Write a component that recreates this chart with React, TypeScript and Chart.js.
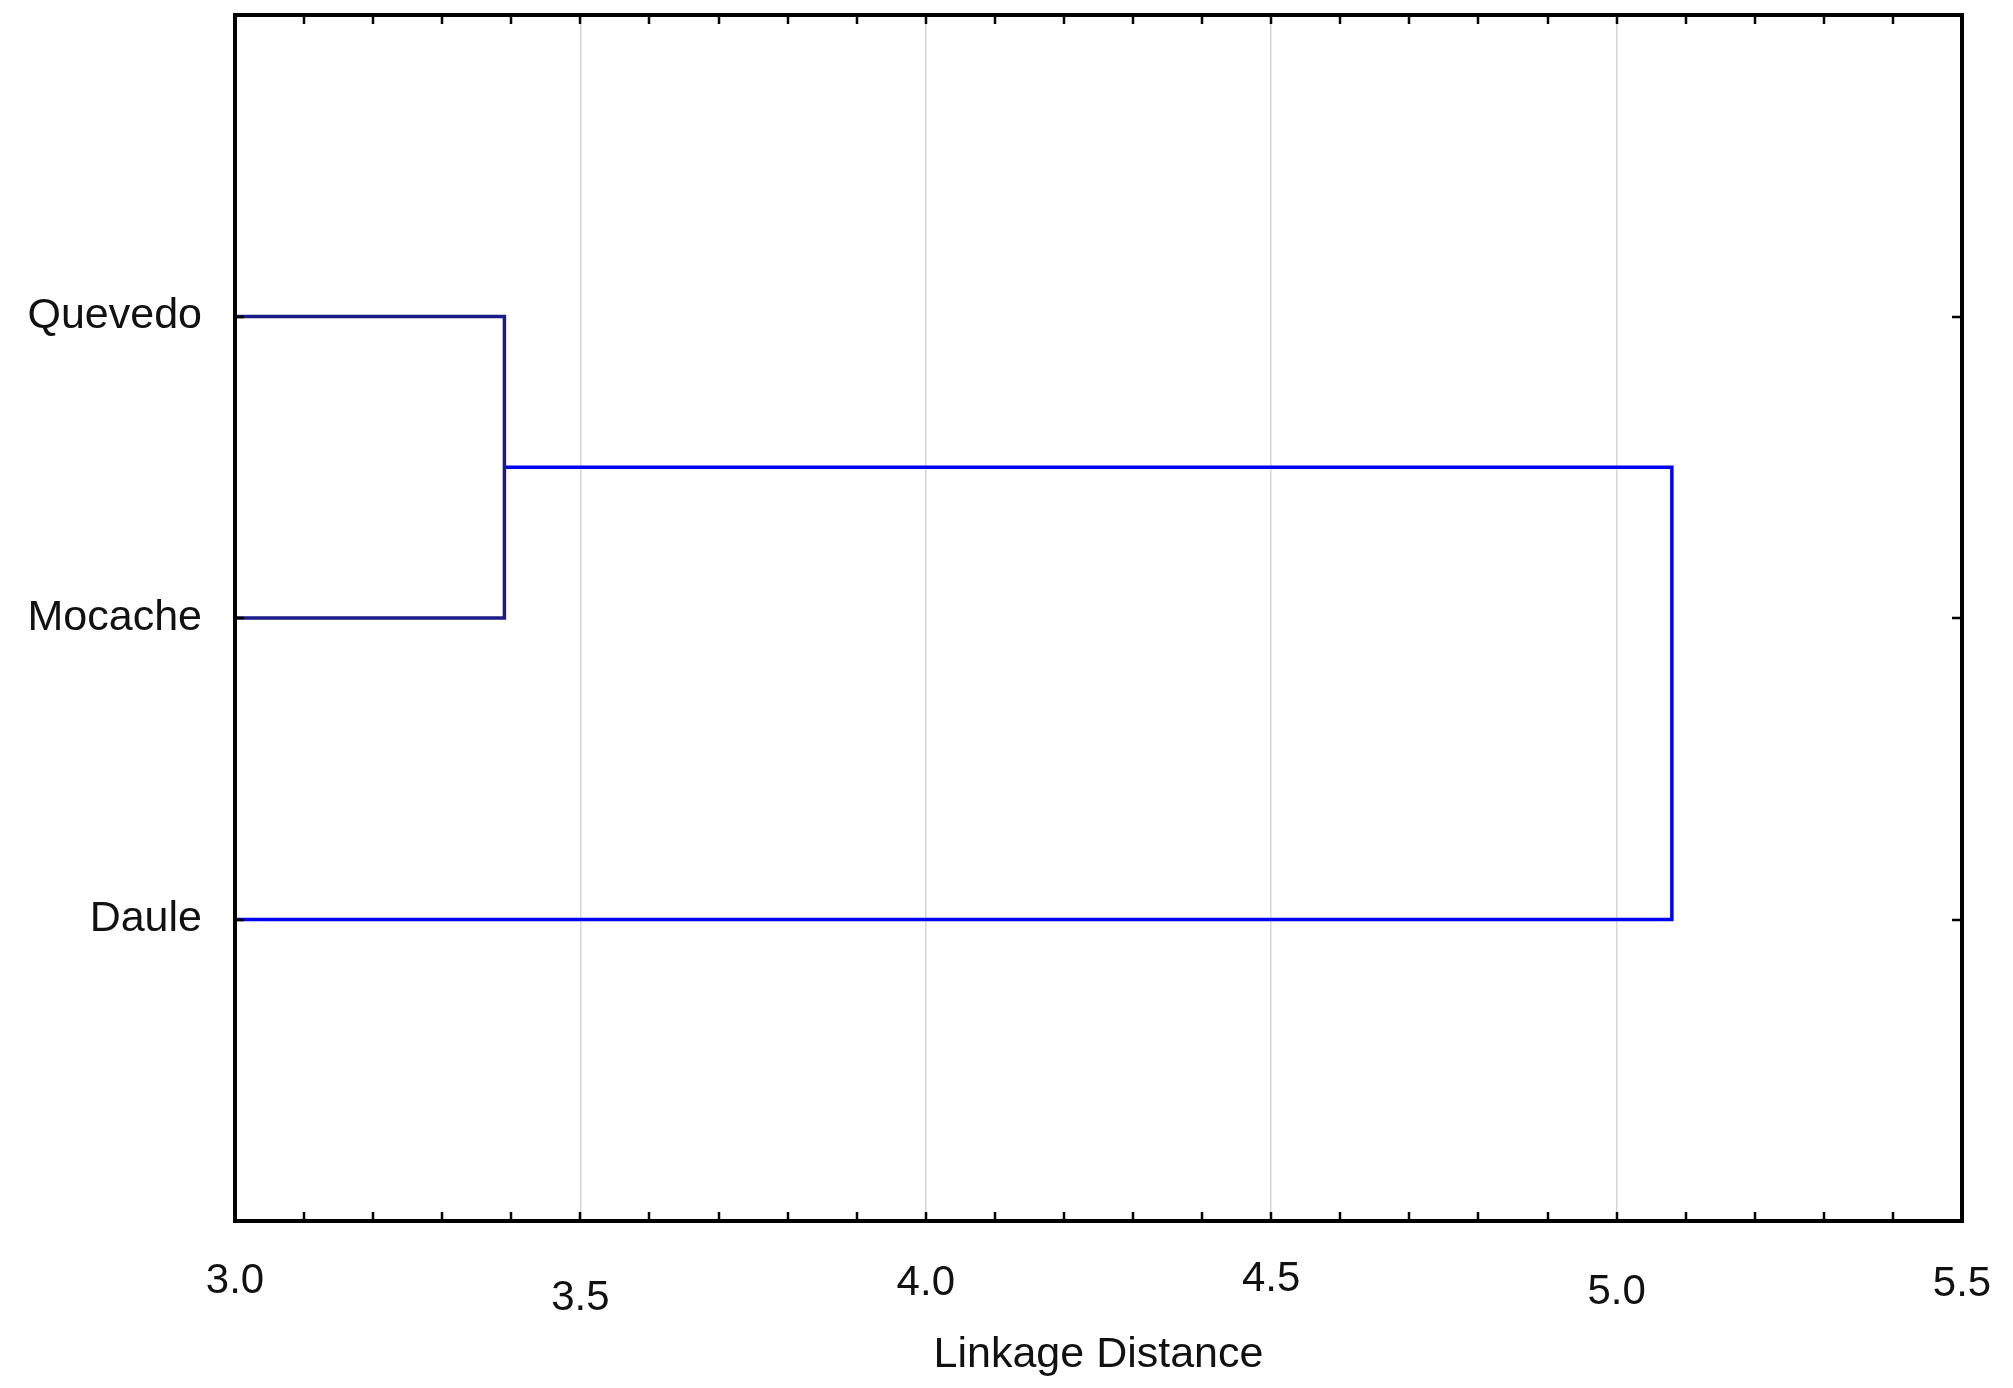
import React, { useEffect, useRef } from "react";
import { Chart, registerables } from "chart.js";

Chart.register(...registerables);

// ---- data ----
const leafLabels = ["Quevedo", "Mocache", "Daule"];
const leafPositions = [1, 2, 3];
const leafDistance = 0; // leaves sit at linkage distance 0 (clipped by axis min)
const mergeDistances = [3.39, 5.08]; // Quevedo+Mocache, (Q+M)+Daule
const xTickValues = [3.0, 3.5, 4.0, 4.5, 5.0, 5.5];
const xMin = 3.0;
const xMax = 5.5;
const minorStep = 0.1;

// ---- style: per-label vertical nudge of the x tick labels, as in the source image (px) ----
const xTickLabelNudge = [-5, 12, -3, -7, 6, -2];

const W = 2013;
const H = 1388;
const FONT = "'Liberation Sans', Arial, sans-serif";
const TICK_SIZE = 42;

function buildLinks() {
  const [q, m, d] = leafPositions;
  const d1 = mergeDistances[0];
  const d2 = mergeDistances[1];
  const mid1 = (q + m) / 2;
  const link1 = [
    { x: leafDistance, y: q },
    { x: d1, y: q },
    { x: d1, y: m },
    { x: leafDistance, y: m },
  ];
  const link2 = [
    { x: d1, y: mid1 },
    { x: d2, y: mid1 },
    { x: d2, y: d },
    { x: leafDistance, y: d },
  ];
  return [link1, link2];
}

const framePlugin = {
  id: "frame",
  afterDatasetsDraw(chart: any) {
    const { ctx, chartArea, scales } = chart;
    const { left, right, top, bottom } = chartArea;
    const xs = scales.x;
    const ys = scales.y;
    ctx.save();
    ctx.strokeStyle = "#000";
    ctx.lineWidth = 2.5;
    ctx.beginPath();
    const n = Math.round((xMax - xMin) / minorStep);
    for (let i = 1; i < n; i++) {
      const px = Math.round(xs.getPixelForValue(xMin + i * minorStep));
      ctx.moveTo(px, top);
      ctx.lineTo(px, top + 9);
      ctx.moveTo(px, bottom);
      ctx.lineTo(px, bottom - 9);
    }
    for (const p of leafPositions) {
      const py = Math.round(ys.getPixelForValue(p));
      ctx.moveTo(left, py);
      ctx.lineTo(left + 9, py);
      ctx.moveTo(right, py);
      ctx.lineTo(right - 10, py);
    }
    ctx.stroke();
    ctx.lineWidth = 4;
    ctx.strokeRect(left, top, right - left, bottom - top);
    ctx.restore();
  },
};

export default function App() {
  const ref = useRef<HTMLCanvasElement>(null);
  useEffect(() => {
    const [link1, link2] = buildLinks();
    const chart = new Chart(ref.current as HTMLCanvasElement, {
      type: "scatter",
      data: {
        datasets: [
          {
            data: link1,
            showLine: true,
            borderColor: "#1c1c88",
            borderWidth: 3.5,
            pointRadius: 0,
            tension: 0,
            borderJoinStyle: "miter",
            clip: 0,
          },
          {
            data: link2,
            showLine: true,
            borderColor: "#0000f2",
            borderWidth: 3.5,
            pointRadius: 0,
            tension: 0,
            borderJoinStyle: "miter",
            clip: 0,
          },
        ],
      } as any,
      options: {
        animation: false,
        responsive: false,
        events: [],
        layout: { padding: { top: 15, right: 51, left: 0, bottom: 0 } },
        plugins: {
          legend: { display: false },
          tooltip: { enabled: false },
        },
        scales: {
          x: {
            type: "linear",
            min: xMin,
            max: xMax,
            afterBuildTicks: (s: any) => {
              s.ticks = xTickValues.map((v) => ({ value: v }));
            },
            afterFit: (s: any) => {
              s.height = H - 1221;
              s.paddingLeft = 0;
              s.paddingRight = 0;
            },
            ticks: {
              autoSkip: false,
              maxRotation: 0,
              padding: 40,
              color: "#111",
              font: (c: any) => {
                const nudge = xTickLabelNudge[c.index] ?? 0;
                const lh = TICK_SIZE * 1.2 + 2 * nudge;
                return { family: FONT, size: TICK_SIZE, lineHeight: `${lh}px` };
              },
              callback: (v: any) => Number(v).toFixed(1),
            },
            grid: { color: "#d6d6d6", lineWidth: 1.5, drawTicks: false },
            border: { display: false },
            title: {
              display: true,
              text: "Linkage Distance",
              color: "#111",
              font: { family: FONT, size: 43 },
              padding: { top: 0, bottom: 7 },
            },
          },
          y: {
            type: "linear",
            min: 0,
            max: 4,
            reverse: true,
            afterBuildTicks: (s: any) => {
              s.ticks = leafPositions.map((v) => ({ value: v }));
            },
            afterFit: (s: any) => {
              s.width = 235;
              s.paddingTop = 0;
              s.paddingBottom = 0;
            },
            ticks: {
              autoSkip: false,
              padding: 33,
              color: "#111",
              font: { family: FONT, size: 43 },
              callback: (v: any) => leafLabels[leafPositions.indexOf(Number(v))] ?? "",
            },
            grid: { display: false, drawTicks: false },
            border: { display: false },
          },
        },
      } as any,
      plugins: [framePlugin],
    });
    return () => chart.destroy();
  }, []);
  return (
    <div style={{ position: "absolute", left: 0, top: 0, width: W, height: H, background: "#fff" }}>
      <canvas ref={ref} width={W} height={H} style={{ display: "block" }} />
    </div>
  );
}
